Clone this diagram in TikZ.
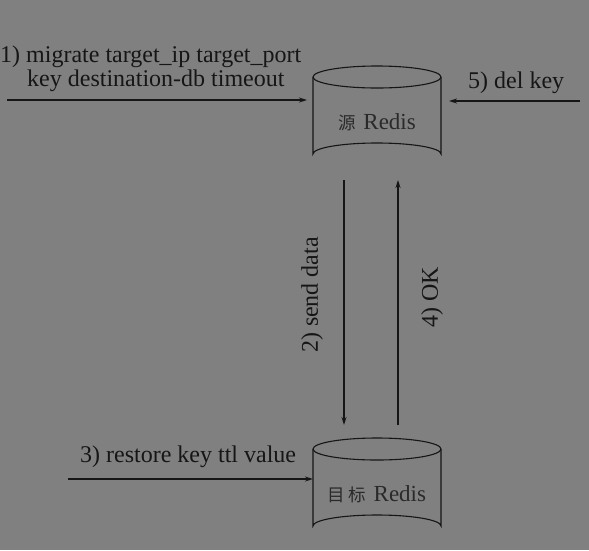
\documentclass[tikz,border=0pt]{standalone}
\usepackage{fontspec}
\setmainfont{Liberation Serif}
\newfontfamily\cjk{Noto Sans CJK SC}
\usetikzlibrary{arrows.meta}
\definecolor{bg}{HTML}{808080}
\definecolor{ink}{HTML}{161616}
\definecolor{lbl}{HTML}{2a2a2a}
\begin{document}
\begin{tikzpicture}[x=1pt,y=-1pt,
  cyl/.style={draw=ink,line width=1.1pt,fill=bg},
  conn/.style={draw=ink,line width=1.3pt,-{Stealth[length=8pt,width=5pt]}},
  txt/.style={text=ink,font=\fontsize{24}{26}\selectfont,inner sep=0pt},
  dbtxt/.style={text=lbl,font=\fontsize{23}{26}\selectfont,inner sep=0pt}]
\fill[bg] (0,0) rectangle (589,550);
\useasboundingbox (0,0) rectangle (589,550);
% source cylinder
\draw[cyl] (313,77) -- (313,154) arc[start angle=180,end angle=360,x radius=64,y radius=11] -- (441,77);
\draw[cyl] (377,77) ellipse [x radius=64,y radius=11];
\node[dbtxt] (src) at (377,122) {{\cjk\fontsize{17.5}{20}\selectfont 源}\hspace{2pt} Redis};
% target cylinder
\draw[cyl] (313,449) -- (313,526) arc[start angle=180,end angle=360,x radius=64,y radius=11] -- (441,449);
\draw[cyl] (377,449) ellipse [x radius=64,y radius=11];
\node[dbtxt] (dst) at (377,494) {{\cjk\fontsize{17.5}{20}\selectfont 目\hspace{3pt}标}\hspace{2pt} Redis};
% coordinates
\coordinate (a1s) at (7,100);
\coordinate (a1e) at (307,100);
\coordinate (a5s) at (580,101);
\coordinate (a5e) at (449,101);
\coordinate (a3s) at (68,479);
\coordinate (a3e) at (313,479);
\coordinate (a2s) at (344,180);
\coordinate (a2e) at (344,425);
\coordinate (a4s) at (398,425);
\coordinate (a4e) at (398,180);
\draw[conn] (a1s) -- (a1e);
\draw[conn] (a5s) -- (a5e);
\draw[conn] (a3s) -- (a3e);
\draw[conn] (a2s) -- (a2e);
\draw[conn] (a4s) -- (a4e);
% labels
\node[txt,anchor=base west] (l1a) at (0,62) {1) migrate target\_ip target\_port};
\node[txt,anchor=base west] (l1b) at (27,86) {key destination-db timeout};
\node[txt,anchor=base west] (l5) at (468,88) {5) del key};
\node[txt,anchor=base west] (l3) at (80,462) {3) restore key ttl value};
\node[txt,rotate=90] (l2) at (312,295) {2) send data};
\node[txt,rotate=90] (l4) at (432,297) {4) OK};
\end{tikzpicture}
\end{document}
